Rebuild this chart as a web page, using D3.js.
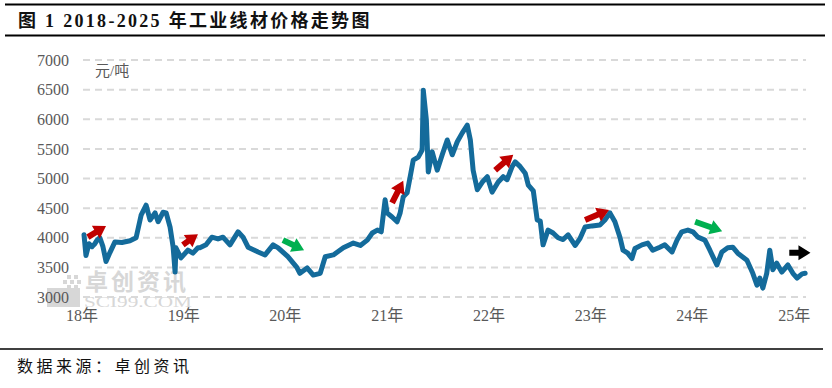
<!DOCTYPE html>
<html>
<head>
<meta charset="utf-8">
<script src="https://cdn.jsdelivr.net/npm/d3@7"></script>
<style>
  body { margin: 0; background: #fff; }
  svg { display: block; }
  text { font-family: "Liberation Serif", "DejaVu Serif", "Noto Sans CJK SC", serif; }
</style>
</head>
<body>
<div id="chart"></div>
<script>
// price series (元/吨)
var dates = [
  "2018-01-10","2018-01-17","2018-01-28","2018-02-08","2018-02-18","2018-02-26","2018-03-08","2018-03-19","2018-03-30",
  "2018-04-13","2018-05-01","2018-05-26","2018-06-24","2018-07-16","2018-08-03","2018-08-21","2018-09-04","2018-09-22",
  "2018-10-03","2018-10-21","2018-11-01","2018-11-15","2018-11-26","2018-12-03","2018-12-06","2018-12-24",
  "2019-01-18","2019-02-05","2019-02-23","2019-03-02","2019-03-24","2019-04-14","2019-05-06","2019-05-24","2019-06-18",
  "2019-07-17","2019-08-04","2019-08-22","2019-09-27","2019-10-22","2019-11-20","2019-12-08",
  "2020-01-12","2020-02-13","2020-02-24","2020-03-21","2020-04-12","2020-05-07","2020-05-25","2020-06-23","2020-07-29",
  "2020-09-03","2020-09-28","2020-10-23","2020-11-10","2020-11-28","2020-12-12","2020-12-26",
  "2021-01-02","2021-01-20","2021-02-07","2021-02-18","2021-03-01","2021-03-15","2021-03-26","2021-04-06","2021-04-24",
  "2021-05-08","2021-05-12","2021-05-23","2021-05-30","2021-06-13","2021-07-01","2021-07-19","2021-08-06","2021-08-24",
  "2021-09-11","2021-09-29","2021-10-17","2021-10-28","2021-11-07","2021-11-22","2021-12-10","2021-12-28",
  "2022-01-14","2022-02-05","2022-02-23","2022-03-09","2022-03-27","2022-04-07","2022-04-25","2022-05-13","2022-05-24",
  "2022-06-11","2022-06-25","2022-07-06","2022-07-16","2022-08-03","2022-08-21","2022-09-08","2022-09-26","2022-10-14",
  "2022-11-08","2022-11-26","2022-12-14",
  "2023-01-08","2023-02-05","2023-02-23","2023-03-13","2023-03-31","2023-04-18","2023-04-29","2023-05-16","2023-05-31",
  "2023-06-11","2023-07-06","2023-07-27","2023-08-14","2023-09-08","2023-09-26","2023-10-22","2023-11-09","2023-11-26",
  "2023-12-18","2024-01-05","2024-01-23","2024-02-17","2024-03-06","2024-03-31","2024-04-18","2024-05-09","2024-05-27",
  "2024-06-14","2024-07-17","2024-08-07","2024-08-22","2024-09-01","2024-09-12","2024-09-26","2024-10-07","2024-10-18",
  "2024-11-01","2024-11-19","2024-12-11","2024-12-29","2025-01-13","2025-01-31","2025-02-11"
];
var prices = [
  4050,3700,3900,3850,3900,3960,4000,3850,3600,
  3750,3930,3920,3950,4000,4380,4550,4300,4420,
  4270,4430,4420,4180,3840,3420,3830,3660,
  3790,3740,3830,3830,3880,4010,3980,4010,3880,
  4100,4010,3840,3760,3710,3880,3830,
  3680,3500,3400,3490,3370,3400,3680,3710,3830,
  3910,3870,3960,4080,4130,4100,4640,
  4420,4350,4270,4420,4690,4760,5030,5310,5360,
  5480,6490,5990,5110,5450,5140,5400,5650,5400,
  5620,5770,5900,5650,5140,4810,4940,5030,
  4770,4940,5030,4980,5200,5280,5200,5090,4890,
  4790,4300,4280,3880,4130,4080,4000,3970,4050,
  3870,3990,4180,
  4200,4215,4300,4420,4270,4010,3790,3740,3650,
  3820,3880,3910,3790,3840,3880,3760,3960,4100,
  4130,4100,4010,3960,3790,3540,3760,3830,3840,
  3740,3620,3400,3200,3320,3150,3400,3790,3460,
  3570,3420,3540,3400,3320,3390,3400
];

var yTicks = [3000, 3500, 4000, 4500, 5000, 5500, 6000, 6500, 7000];
var xTickDates = ["2018-01-01","2019-01-01","2020-01-01","2021-01-01","2022-01-01","2023-01-01","2024-01-01","2025-01-01"];
var xTickLabels = ["18年","19年","20年","21年","22年","23年","24年","25年"];

// trend arrows: [tailDate, tailValue] -> [headDate, headValue]
var arrowFrom = [["2018-01-24",4010],["2018-12-31",3880],["2019-12-25",3960],["2021-01-20",4590],
                 ["2022-01-25",5140],["2022-12-14",4300],["2024-01-13",4270],["2024-12-16",3745]];
var arrowTo   = [["2018-03-30",4200],["2019-02-23",4060],["2020-03-10",3790],["2021-03-01",4960],
                 ["2022-03-31",5400],["2023-03-10",4470],["2024-04-19",4110],["2025-03-02",3745]];
var arrowColors = ["#c00000","#c00000","#00b050","#c00000","#c00000","#c00000","#00b050","#000000"];

var W = 832, H = 388;
var parse = d3.timeParse("%Y-%m-%d");
var data = dates.map(function(d, i) { return { date: parse(d), price: prices[i] }; });

var svg = d3.select("#chart").append("svg")
    .attr("width", W)
    .attr("height", H);

// header / footer rules
svg.append("line").attr("x1", 5).attr("x2", 825).attr("y1", 4.5).attr("y2", 4.5)
    .attr("stroke", "#000").attr("stroke-width", 2);
svg.append("line").attr("x1", 5).attr("x2", 825).attr("y1", 35.5).attr("y2", 35.5)
    .attr("stroke", "#000").attr("stroke-width", 2);
svg.append("line").attr("x1", 0).attr("x2", 823).attr("y1", 349).attr("y2", 349)
    .attr("stroke", "#000").attr("stroke-width", 1.5);

svg.append("text").attr("x", 18).attr("y", 27)
    .attr("font-size", 18).attr("font-weight", "bold").attr("fill", "#111")
    .attr("letter-spacing", 2.3)
    .text("图 1  2018-2025 年工业线材价格走势图");

svg.append("text").attr("x", 17).attr("y", 372)
    .attr("font-size", 16).attr("fill", "#111")
    .attr("letter-spacing", 3.5)
    .attr("font-family", "'Noto Sans CJK SC', sans-serif")
    .text("数据来源：卓创资讯");

var x = d3.scaleTime()
    .domain([parse("2018-01-01"), parse("2025-02-14")])
    .range([81.5, 806]);
var y = d3.scaleLinear()
    .domain([3000, 7000])
    .range([297, 60]);

// watermark
var wm = svg.append("g").attr("opacity", 0.5);
wm.append("rect").attr("x", 47).attr("y", 288).attr("width", 33).attr("height", 19).attr("fill", "#b0b0b0");
[[67,275],[74,275],[63,280],[70,280],[77,280],[67,285],[74,285]].forEach(function(p) {
  wm.append("rect").attr("x", p[0]).attr("y", p[1]).attr("width", 4).attr("height", 4).attr("fill", "#b0b0b0");
});
wm.append("text").attr("x", 85).attr("y", 290).attr("font-size", 23).attr("font-weight", "bold")
    .attr("letter-spacing", 3)
    .attr("fill", "#b0b0b0").attr("font-family", "'Noto Sans CJK SC', sans-serif").text("卓创资讯");
wm.append("text").attr("x", 84).attr("y", 307).attr("font-size", 15)
    .attr("fill", "#b0b0b0").attr("textLength", 108).attr("lengthAdjust", "spacingAndGlyphs")
    .text("SCI99.COM");

// grid
svg.append("g").selectAll("line").data(yTicks).join("line")
    .attr("x1", 83).attr("x2", 806)
    .attr("y1", function(d) { return y(d); })
    .attr("y2", function(d) { return y(d); })
    .attr("stroke", "#d9d9d9").attr("stroke-width", 2)
    .attr("stroke-dasharray", "7,5");

// y axis labels
var yAxis = d3.axisLeft(y).tickValues(yTicks).tickSize(0).tickPadding(0).tickFormat(d3.format("d"));
svg.append("g")
    .attr("transform", "translate(69,0)")
    .call(yAxis)
    .call(function(g) { g.select(".domain").remove(); })
    .selectAll("text")
    .attr("font-size", 16).attr("fill", "#595959")
    .attr("font-family", "'Liberation Serif', serif");

// x axis labels
var xAxis = d3.axisBottom(x).tickValues(xTickDates.map(parse)).tickSize(0).tickPadding(0)
    .tickFormat(function(d, i) { return xTickLabels[i]; });
svg.append("g")
    .attr("transform", "translate(0,310)")
    .call(xAxis)
    .call(function(g) { g.select(".domain").remove(); })
    .selectAll("text")
    .attr("font-size", 16).attr("fill", "#595959")
    .attr("font-family", "'Liberation Serif', 'Noto Sans CJK SC', serif");

svg.append("text").attr("x", 95).attr("y", 76)
    .attr("font-size", 15).attr("fill", "#595959")
    .attr("font-family", "'Noto Sans CJK SC', sans-serif")
    .text("元/吨");

// price line
svg.append("path")
    .datum(data)
    .attr("fill", "none")
    .attr("stroke", "#146b9b")
    .attr("stroke-width", 5)
    .attr("stroke-linejoin", "round")
    .attr("stroke-linecap", "round")
    .attr("d", d3.line()
        .x(function(d) { return x(d.date); })
        .y(function(d) { return y(d.price); }));

// block arrows
arrowFrom.forEach(function(a, i) {
  var b = arrowTo[i];
  var x0 = x(parse(a[0])), y0 = y(a[1]), x1 = x(parse(b[0])), y1 = y(b[1]);
  var len = Math.hypot(x1 - x0, y1 - y0);
  var ang = Math.atan2(y1 - y0, x1 - x0) * 180 / Math.PI;
  var head = 12, sw = 3, hw = 7.5;
  var pts = [[0, -sw], [len - head, -sw], [len - head, -hw], [len, 0], [len - head, hw], [len - head, sw], [0, sw]];
  svg.append("polygon")
      .attr("points", pts.map(function(p) { return p.join(","); }).join(" "))
      .attr("transform", "translate(" + x0 + "," + y0 + ") rotate(" + ang + ")")
      .attr("fill", arrowColors[i]);
});
</script>
</body>
</html>
